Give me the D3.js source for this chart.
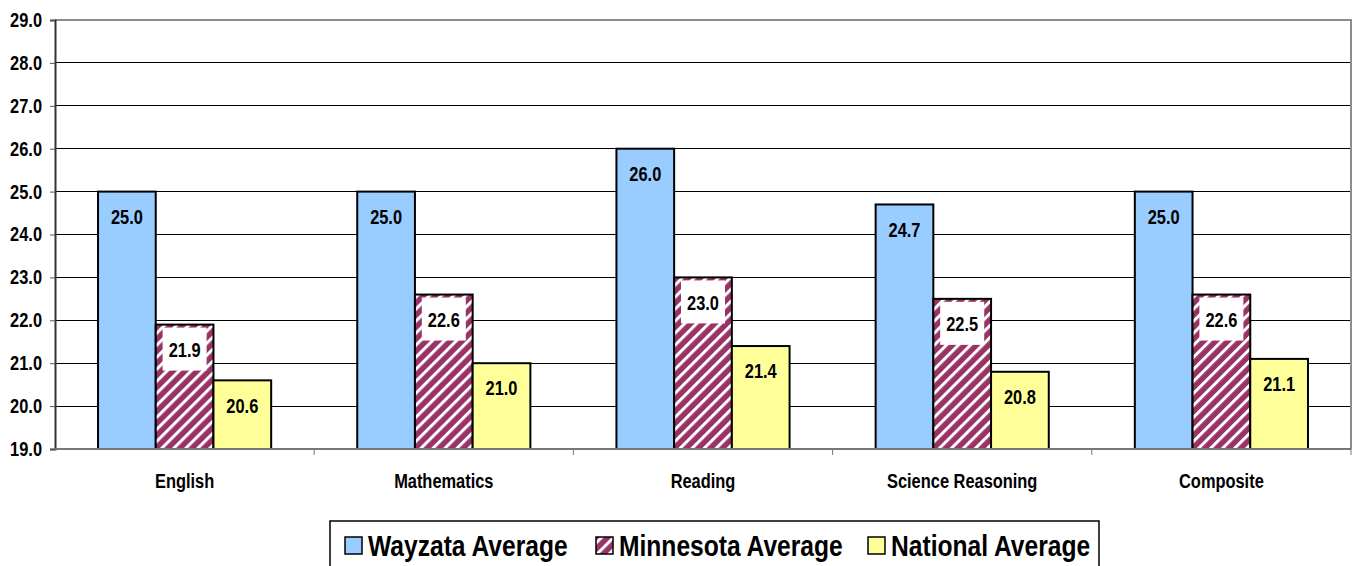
<!DOCTYPE html>
<html>
<head>
<meta charset="utf-8">
<script src="https://cdn.jsdelivr.net/npm/d3@7/dist/d3.min.js"></script>
<style>
  html, body { margin: 0; padding: 0; background: #fff; }
  svg { display: block; }
  text { font-family: "Liberation Sans", Arial, sans-serif; font-weight: bold; fill: #000; }
</style>
</head>
<body>
<svg id="chart" width="1355" height="566"></svg>
<script>
// ACT average scores by subject
const categories = ["English", "Mathematics", "Reading", "Science Reasoning", "Composite"];
const seriesNames = ["Wayzata Average", "Minnesota Average", "National Average"];
const wayzata   = [25.0, 25.0, 26.0, 24.7, 25.0];
const minnesota = [21.9, 22.6, 23.0, 22.5, 22.6];
const national  = [20.6, 21.0, 21.4, 20.8, 21.1];
const yTicks = [19, 20, 21, 22, 23, 24, 25, 26, 27, 28, 29];

const seriesValues = [wayzata, minnesota, national];
const fills = ["#99CCFF", "url(#hatch)", "#FFFF99"];

const svg = d3.select("#chart");
const plot = { left: 55, right: 1351, top: 20, bottom: 449 };

// diagonal white-on-maroon hatch
const defs = svg.append("defs");
const pat = defs.append("pattern")
  .attr("id", "hatch")
  .attr("patternUnits", "userSpaceOnUse")
  .attr("width", 8.5).attr("height", 8.5)
  .attr("patternTransform", "rotate(45)");
pat.append("rect").attr("width", 8.5).attr("height", 8.5).attr("fill", "#993366");
pat.append("rect").attr("x", 0).attr("width", 3).attr("height", 8.5).attr("fill", "#fff");

const x0 = d3.scaleBand().domain(categories).range([plot.left, plot.right]).padding(0);
const groupPad = x0.bandwidth() * 0.166;
const x1 = d3.scaleBand().domain(seriesNames).range([groupPad, x0.bandwidth() - groupPad]).padding(0);
const y = d3.scaleLinear().domain([19, 29]).range([plot.bottom, plot.top]);

// gridlines
svg.append("g")
  .selectAll("line")
  .data(yTicks.filter(t => t > 19 && t < 29))
  .join("line")
  .attr("x1", plot.left).attr("x2", plot.right)
  .attr("y1", d => y(d)).attr("y2", d => y(d))
  .attr("stroke", "#000").attr("stroke-width", 1)
  .attr("shape-rendering", "crispEdges");

// plot frame (top and right)
svg.append("path")
  .attr("d", `M${plot.left},${y(29)}H${plot.right}V${plot.bottom}`)
  .attr("fill", "none").attr("stroke", "#8c8c8c").attr("stroke-width", 2);

// bars
const groups = svg.append("g").selectAll("g")
  .data(categories)
  .join("g")
  .attr("transform", d => `translate(${x0(d)},0)`);

groups.selectAll("rect")
  .data((c, ci) => seriesNames.map((s, si) => ({ s, si, v: seriesValues[si][ci] })))
  .join("rect")
  .attr("x", d => x1(d.s))
  .attr("width", x1.bandwidth())
  .attr("y", d => y(d.v))
  .attr("height", d => y(19) - y(d.v))
  .attr("fill", d => fills[d.si])
  .attr("stroke", "#000").attr("stroke-width", 2);

// value labels
const labels = groups.selectAll("g.lbl")
  .data((c, ci) => seriesNames.map((s, si) => ({ s, si, v: seriesValues[si][ci] })))
  .join("g").attr("class", "lbl")
  .attr("transform", d => `translate(${x1(d.s) + x1.bandwidth() / 2},${y(d.v) + 25})`);

labels.filter(d => d.si === 1).append("rect")
  .attr("x", -22).attr("y", -22).attr("width", 44).attr("height", 43)
  .attr("fill", "#fff");

labels.append("text")
  .attr("text-anchor", "middle")
  .attr("dy", "0.36em")
  .style("font-size", "20px")
  .text(d => d.v.toFixed(1));

// y axis
const yAxis = svg.append("g")
  .attr("transform", `translate(${plot.left},0)`)
  .call(d3.axisLeft(y).tickValues(yTicks).tickFormat(d3.format(".1f")).tickSize(5).tickPadding(8));
yAxis.select(".domain").attr("stroke", "#333").attr("stroke-width", 2);
yAxis.selectAll(".tick line").attr("stroke", "#555");
yAxis.selectAll("text").style("font-size", "20px").attr("font-family", null);

// x axis
const xAxis = svg.append("g")
  .attr("transform", `translate(0,${plot.bottom})`);
xAxis.append("line")
  .attr("x1", plot.left).attr("x2", plot.right)
  .attr("stroke", "#777").attr("stroke-width", 2);
xAxis.selectAll("line.tk")
  .data(categories)
  .join("line").attr("class", "tk")
  .attr("x1", d => x0(d) + x0.bandwidth())
  .attr("x2", d => x0(d) + x0.bandwidth())
  .attr("y1", 0).attr("y2", 6)
  .attr("stroke", "#777").attr("stroke-width", 1);
xAxis.selectAll("text")
  .data(categories)
  .join("text")
  .attr("x", d => x0(d) + x0.bandwidth() / 2)
  .attr("y", 39)
  .attr("text-anchor", "middle")
  .style("font-size", "20px")
  .text(d => d);

// legend
const legend = svg.append("g");
legend.append("rect")
  .attr("x", 330).attr("y", 521).attr("width", 769).attr("height", 52)
  .attr("fill", "#fff").attr("stroke", "#000").attr("stroke-width", 1.5);
const itemX = [345, 596, 868];
const items = legend.selectAll("g.item")
  .data(seriesNames)
  .join("g").attr("class", "item")
  .attr("transform", (d, i) => `translate(${itemX[i]},0)`);
items.append("rect")
  .attr("x", 0).attr("y", 537).attr("width", 17).attr("height", 17)
  .attr("fill", (d, i) => fills[i])
  .attr("stroke", "#000").attr("stroke-width", 1.5);
items.append("text")
  .attr("x", 23).attr("y", 556)
  .style("font-size", "30px")
  .text(d => d);

// condensed lettering: squeeze every label horizontally
svg.selectAll("text").each(function () {
  const w = this.getComputedTextLength();
  d3.select(this).attr("textLength", w * 0.82).attr("lengthAdjust", "spacingAndGlyphs");
});
</script>
</body>
</html>
